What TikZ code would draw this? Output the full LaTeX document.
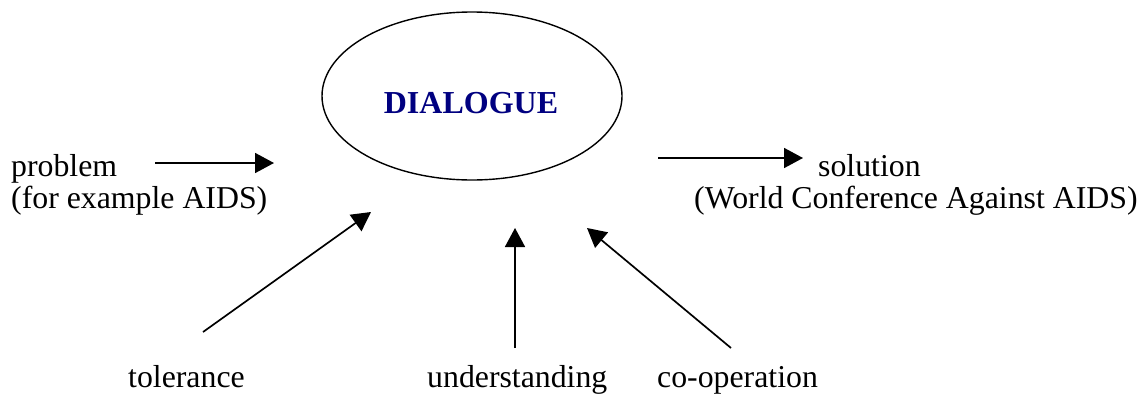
\documentclass[tikz,border=0pt]{standalone}
\usepackage{fontspec}
\setmainfont{Liberation Serif}
\usetikzlibrary{arrows.meta,shapes.geometric}
\definecolor{dlgblue}{RGB}{0,0,128}
\begin{document}
\begin{tikzpicture}[x=1pt,y=-1pt,
  lbl/.style={anchor=base west,inner sep=0pt,font=\fontsize{31.8}{36}\selectfont},
  arr/.style={line width=1.7pt,-{Triangle[length=19pt,width=20pt]}}]
\useasboundingbox (0,0) rectangle (1147,402);
% central ellipse
\node (dlg) [draw,ellipse,line width=1.4pt,minimum width=300pt,minimum height=168pt,inner sep=0pt] at (472,96) {};
\node (dlgtxt) [anchor=base,inner sep=0pt,font=\fontsize{32}{36}\selectfont\bfseries,text=dlgblue] at (471,113) {DIALOGUE};
% labels
\node (prob) [lbl] at (11,176) {problem};
\node (probex) [lbl] at (11,208) {(for example AIDS)};
\node (sol) [lbl] at (818,176) {solution};
\node (solex) [lbl] at (694,208) {(World Conference Against AIDS)};
\node (tol) [lbl] at (128,387) {tolerance};
\node (und) [lbl] at (427,387) {understanding};
\node (coop) [lbl] at (657,387) {co-operation};
% arrow end points
\coordinate (p1) at (155,163); \coordinate (p2) at (274,163);
\coordinate (s1) at (658,158); \coordinate (s2) at (803,158);
\coordinate (t1) at (203,332); \coordinate (t2) at (371,212);
\coordinate (u1) at (515,348); \coordinate (u2) at (515,228);
\coordinate (c1) at (731,348); \coordinate (c2) at (587,228);
\draw[arr] (p1) -- (p2);
\draw[arr] (s1) -- (s2);
\draw[arr] (t1) -- (t2);
\draw[arr] (u1) -- (u2);
\draw[arr] (c1) -- (c2);
\end{tikzpicture}
\end{document}
